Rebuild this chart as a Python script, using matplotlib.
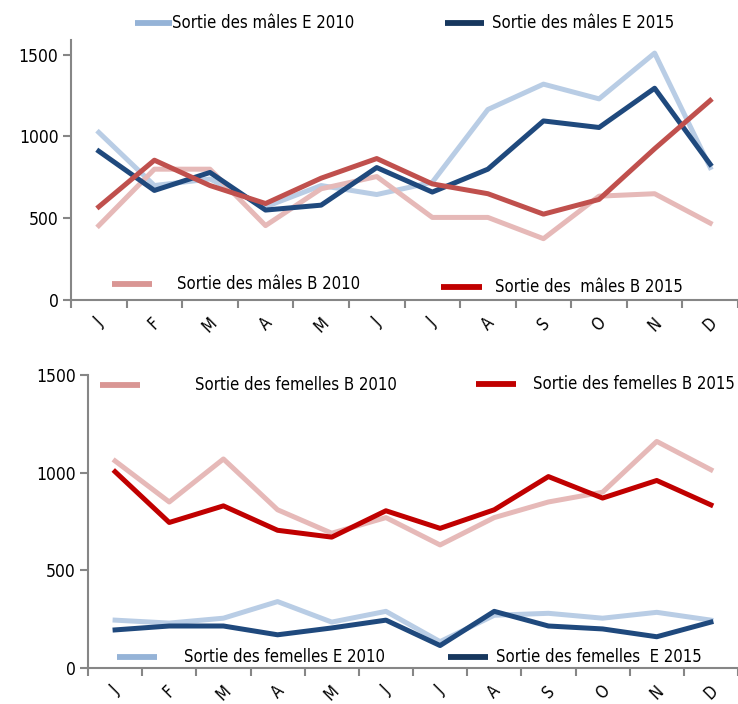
import numpy as np
import matplotlib
matplotlib.use('Agg')
import matplotlib.pyplot as plt
from matplotlib.lines import Line2D
from matplotlib import font_manager as fm

# pick a narrow font if one is around
names = {f.name for f in fm.fontManager.ttflist}
cond = [f for f in fm.fontManager.ttflist if 'Condensed' in f.fname and f.name == 'DejaVu Sans'
        and 'Bold' not in f.fname and 'Oblique' not in f.fname]
if 'Liberation Sans Narrow' in names:
    FONT = dict(family='Liberation Sans Narrow')
elif cond:
    FONT = dict(fname=cond[0].fname)
else:
    FONT = dict(family='Roboto')
FP = fm.FontProperties(**FONT)

months = ['J', 'F', 'M', 'A', 'M', 'J', 'J', 'A', 'S', 'O', 'N', 'D']

# males
males_e_2010 = [1025, 700, 740, 570, 700, 645, 720, 1165, 1320, 1230, 1510, 810]
males_e_2015 = [910, 670, 780, 550, 580, 810, 660, 800, 1095, 1055, 1295, 830]
males_b_2010 = [455, 800, 800, 455, 680, 755, 505, 505, 375, 635, 650, 470]
males_b_2015 = [570, 855, 700, 590, 745, 865, 710, 650, 525, 615, 925, 1220]

# females
fem_b_2010 = [1060, 850, 1070, 810, 690, 770, 630, 770, 850, 900, 1160, 1015]
fem_b_2015 = [1005, 745, 830, 705, 670, 805, 715, 810, 980, 870, 960, 835]
fem_e_2010 = [245, 230, 255, 340, 235, 290, 135, 270, 280, 255, 285, 245]
fem_e_2015 = [195, 215, 215, 170, 205, 245, 115, 290, 215, 200, 160, 235]

LIGHT_BLUE = '#B9CDE5'
DARK_BLUE = '#1F497D'
PINK = '#E6B9B8'
RED_M = '#C0504D'
RED_F = '#C00000'
AXC = '#868686'
LW = 3.6

fig = plt.figure(figsize=(7.38, 7.04), dpi=100)
W, H = 738, 704


def style(ax, ymax):
    x = np.arange(len(months))
    ax.set_xlim(-0.5, len(months) - 0.5)
    ax.set_ylim(0, ymax)
    ax.set_yticks([0, 500, 1000, 1500])
    ax.set_xticks(x)
    ax.set_xticklabels(months, rotation=45)
    ax.set_xticks(np.arange(-0.5, len(months)), minor=True)
    ax.tick_params(axis='x', which='major', length=0, pad=10)
    ax.tick_params(axis='x', which='minor', length=6, color=AXC, width=1.5)
    ax.tick_params(axis='y', length=6, color=AXC, width=1.5, pad=3)
    for lab in ax.get_xticklabels():
        lab.set_fontproperties(FP)
        lab.set_fontsize(12)
    for lab in ax.get_yticklabels():
        lab.set_fontproperties(FP)
        lab.set_fontsize(12.5)
    for s in ['top', 'right']:
        ax.spines[s].set_visible(False)
    for s in ['left', 'bottom']:
        ax.spines[s].set_color(AXC)
        ax.spines[s].set_linewidth(1.5)


def leg(px, py, color, text, tx):
    # px: (x0, x1) in pixels, py: y in pixels from top
    fig.add_artist(Line2D([px[0] / W, px[1] / W], [1 - py / H, 1 - py / H],
                          color=color, lw=4.2, solid_capstyle='butt'))
    fig.text(tx / W, 1 - py / H, text, fontproperties=FP, fontsize=12,
             va='center', ha='left')


# top panel: males
ax1 = fig.add_axes([71 / W, 1 - 300 / H, 1 - 71 / W, 260 / H])
x = np.arange(len(months))
ax1.plot(x, males_e_2010, color=LIGHT_BLUE, lw=LW)
ax1.plot(x, males_b_2010, color=PINK, lw=LW)
ax1.plot(x, males_e_2015, color=DARK_BLUE, lw=LW)
ax1.plot(x, males_b_2015, color=RED_M, lw=LW)
style(ax1, 1590)

leg((135, 172), 23, '#95B3D7', 'Sortie des mâles E 2010', 172)
leg((445, 484), 23, '#17375E', 'Sortie des mâles E 2015', 492)
leg((112, 152), 284, '#D99694', 'Sortie des mâles B 2010', 177)
leg((441, 482), 287, '#C00000', 'Sortie des  mâles B 2015', 495)

# bottom panel: females
ax2 = fig.add_axes([88 / W, 1 - 668 / H, 1 - 88 / W, 293 / H])
ax2.plot(x, fem_b_2010, color=PINK, lw=LW)
ax2.plot(x, fem_e_2010, color=LIGHT_BLUE, lw=LW)
ax2.plot(x, fem_b_2015, color=RED_F, lw=LW)
ax2.plot(x, fem_e_2015, color=DARK_BLUE, lw=LW)
style(ax2, 1500)

leg((100, 140), 385, '#D99694', 'Sortie des femelles B 2010', 195)
leg((476, 516), 384, '#C00000', 'Sortie des femelles B 2015', 533)
leg((117, 157), 657, '#95B3D7', 'Sortie des femelles E 2010', 184)
leg((448, 488), 657, '#17375E', 'Sortie des femelles  E 2015', 496)

fig.savefig('out.png', dpi=100)
